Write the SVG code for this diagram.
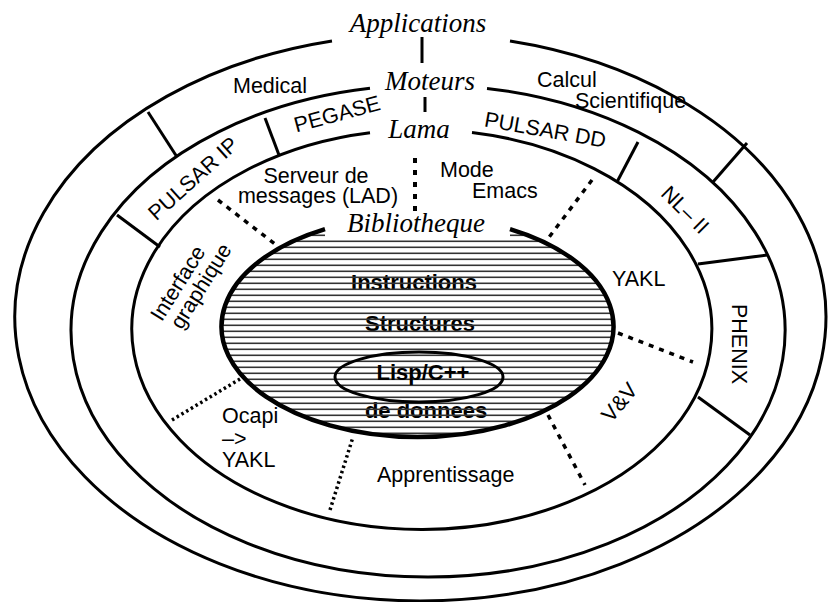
<svg xmlns="http://www.w3.org/2000/svg" width="830" height="602" viewBox="0 0 830 602">
<style>
.ring{fill:none;stroke:#000;stroke-width:3}
.sep{stroke:#000;stroke-width:3;fill:none}
.dot{stroke:#000;stroke-width:3.5;fill:none;stroke-dasharray:5 6}
.fine{stroke:#000;stroke-width:3.5;fill:none;stroke-dasharray:2.5 3}
.lbl{font-family:"Liberation Sans",Arial,sans-serif;font-size:21.5px;fill:#000}
.bold{font-family:"Liberation Sans",Arial,sans-serif;font-size:22px;font-weight:bold;fill:#000;text-anchor:middle}
.layer{font-family:"Liberation Serif","Times New Roman",serif;font-size:27px;font-style:italic;fill:#000;text-anchor:middle}
.mid{text-anchor:middle}
</style>
<defs>
<pattern id="hatch" patternUnits="userSpaceOnUse" x="0" y="0" width="8" height="6">
<line x1="0" y1="1.3" x2="8" y2="1.3" stroke="#333" stroke-width="1.6"/>
</pattern>
</defs>
<rect width="830" height="602" fill="#fff"/>

<g id="ring-applications">
<path class="ring" d="M510,41.1 A405.5,283.4 0 1 1 332,40.9"/>
<line class="sep" x1="148" y1="112" x2="177" y2="157"/>
<line class="sep" x1="747" y1="143" x2="713" y2="182"/>
</g>
<g id="ring-moteurs">
<path class="ring" d="M487,88.4 A357,246 0 1 1 370,88.3"/>
<line class="sep" x1="265" y1="118" x2="279" y2="155"/>
<line class="sep" x1="117" y1="215" x2="160" y2="247"/>
<line class="sep" x1="638" y1="142" x2="617" y2="182"/>
<line class="sep" x1="698" y1="264" x2="767" y2="255"/>
<line class="sep" x1="698" y1="397" x2="750" y2="435"/>
</g>
<g id="ring-lama">
<path class="ring" d="M472,132.5 A290,200 0 1 1 370,132.7"/>
<line class="dot" x1="218" y1="200" x2="280" y2="248"/>
<line class="dot" x1="592" y1="180" x2="547" y2="240"/>
<line class="dot" x1="618" y1="333" x2="693" y2="362"/>
<line class="dot" x1="548" y1="415" x2="585" y2="485"/>
<line class="fine" x1="330" y1="510" x2="353" y2="437"/>
<line class="fine" x1="172" y1="420" x2="240" y2="379"/>
</g>

<g id="core-bibliotheque">
<text class="bold" x="414" y="290">Instructions</text>
<text class="bold" x="420" y="331">Structures</text>
<text class="bold" x="426" y="418">de donnees</text>
<ellipse cx="417.5" cy="326.5" rx="196" ry="110.5" fill="url(#hatch)"/>
<rect x="325" y="213" width="185" height="25" fill="#fff"/>
<path fill="none" stroke="#000" stroke-width="4.5" d="M510,229.1 A196,110.5 0 1 1 325,229.1"/>
</g>
<g id="core-lisp">
<text class="bold" x="423" y="380">Lisp/C++</text>
<ellipse cx="419" cy="377" rx="84" ry="25" fill="none" stroke="#000" stroke-width="3"/>
</g>

<g id="connectors">
<line x1="422" y1="37" x2="422" y2="63" stroke="#000" stroke-width="3"/>
<line x1="425" y1="97" x2="425" y2="112" stroke="#000" stroke-width="3"/>
<line x1="415" y1="158" x2="415" y2="213" stroke="#000" stroke-width="4" stroke-dasharray="5 7"/>
</g>

<g id="label-applications"><text class="layer" x="418" y="32">Applications</text></g>
<g id="label-moteurs"><text class="layer" x="430" y="90">Moteurs</text></g>
<g id="label-lama"><text class="layer" x="419" y="138">Lama</text></g>
<g id="label-bibliotheque"><text class="layer" x="416" y="232">Bibliotheque</text></g>

<g id="app-medical"><text class="lbl" x="233" y="93">Medical</text></g>
<g id="app-calcul"><text class="lbl" x="537" y="87">Calcul</text><text class="lbl" x="575" y="108">Scientifique</text></g>

<g id="mot-pegase"><text class="lbl mid" transform="translate(339,121) rotate(-15)">PEGASE</text></g>
<g id="mot-pulsar-ip"><text class="lbl mid" transform="translate(198,184) rotate(-42)">PULSAR IP</text></g>
<g id="mot-pulsar-dd"><text class="lbl mid" transform="translate(544,137) rotate(10)">PULSAR DD</text></g>
<g id="mot-nl2"><text class="lbl mid" transform="translate(680,215) rotate(45)">NL– II</text></g>
<g id="mot-phenix"><text class="lbl mid" transform="translate(732,344) rotate(90)">PHENIX</text></g>

<g id="lama-serveur"><text class="lbl mid" x="316" y="183">Serveur de</text><text class="lbl mid" x="318" y="203">messages (LAD)</text></g>
<g id="lama-emacs"><text class="lbl" x="440" y="177">Mode</text><text class="lbl" x="472" y="198">Emacs</text></g>
<g id="lama-yakl"><text class="lbl" x="612" y="286">YAKL</text></g>
<g id="lama-vv"><text class="lbl mid" transform="translate(625,407) rotate(-50)">V&amp;V</text></g>
<g id="lama-apprentissage"><text class="lbl" x="377" y="482">Apprentissage</text></g>
<g id="lama-ocapi"><text class="lbl" x="222" y="423">Ocapi</text><text class="lbl" x="222" y="446">–&gt;</text><text class="lbl" x="222" y="467">YAKL</text></g>
<g id="lama-interface"><text class="lbl mid" transform="translate(184,287) rotate(-58)">Interface</text><text class="lbl mid" transform="translate(207,290) rotate(-58)">graphique</text></g>
</svg>
